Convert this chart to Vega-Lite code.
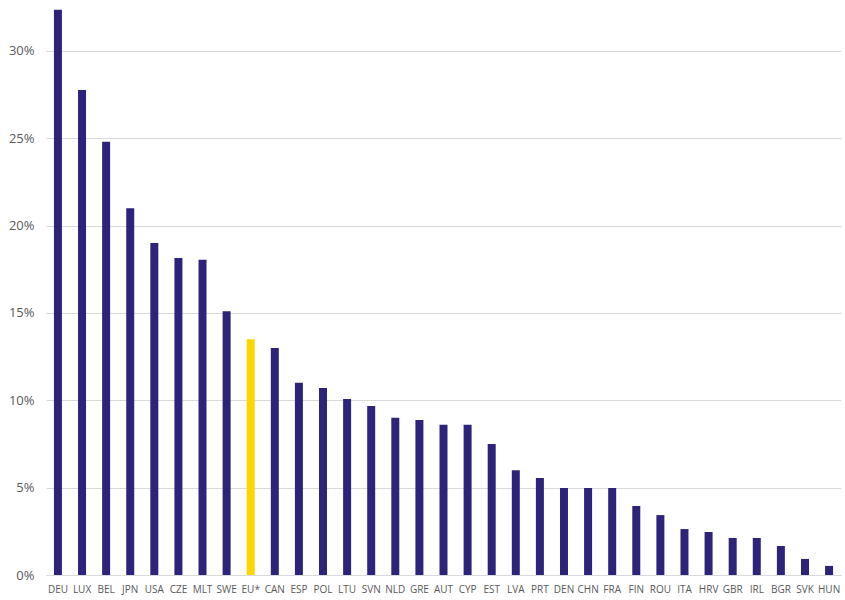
{
  "$schema": "https://vega.github.io/schema/vega-lite/v6.json",
  "width": 795,
  "height": 573,
  "autosize": {"type": "none"},
  "padding": {"left": 46, "top": 2, "right": 4, "bottom": 25},
  "background": "white",
  "config": {"view": {"stroke": null}, "font": "Open Sans"},
  "data": {"values": [
    {"country": "DEU", "value": 0.3235, "group": "other"},
    {"country": "LUX", "value": 0.2776, "group": "other"},
    {"country": "BEL", "value": 0.248, "group": "other"},
    {"country": "JPN", "value": 0.21, "group": "other"},
    {"country": "USA", "value": 0.19, "group": "other"},
    {"country": "CZE", "value": 0.1815, "group": "other"},
    {"country": "MLT", "value": 0.1805, "group": "other"},
    {"country": "SWE", "value": 0.151, "group": "other"},
    {"country": "EU*", "value": 0.135, "group": "eu"},
    {"country": "CAN", "value": 0.13, "group": "other"},
    {"country": "ESP", "value": 0.11, "group": "other"},
    {"country": "POL", "value": 0.107, "group": "other"},
    {"country": "LTU", "value": 0.1007, "group": "other"},
    {"country": "SVN", "value": 0.0967, "group": "other"},
    {"country": "NLD", "value": 0.09, "group": "other"},
    {"country": "GRE", "value": 0.0887, "group": "other"},
    {"country": "AUT", "value": 0.086, "group": "other"},
    {"country": "CYP", "value": 0.086, "group": "other"},
    {"country": "EST", "value": 0.075, "group": "other"},
    {"country": "LVA", "value": 0.06, "group": "other"},
    {"country": "PRT", "value": 0.0555, "group": "other"},
    {"country": "DEN", "value": 0.0498, "group": "other"},
    {"country": "CHN", "value": 0.0498, "group": "other"},
    {"country": "FRA", "value": 0.0498, "group": "other"},
    {"country": "FIN", "value": 0.0395, "group": "other"},
    {"country": "ROU", "value": 0.0343, "group": "other"},
    {"country": "ITA", "value": 0.0263, "group": "other"},
    {"country": "HRV", "value": 0.0246, "group": "other"},
    {"country": "GBR", "value": 0.0212, "group": "other"},
    {"country": "IRL", "value": 0.0212, "group": "other"},
    {"country": "BGR", "value": 0.0166, "group": "other"},
    {"country": "SVK", "value": 0.0092, "group": "other"},
    {"country": "HUN", "value": 0.0052, "group": "other"}
  ]},
  "mark": {"type": "bar", "size": 8},
  "encoding": {
    "x": {
      "field": "country", "type": "nominal", "sort": null,
      "scale": {"paddingInner": 0.67, "paddingOuter": 0.33},
      "axis": {"title": null, "labelAngle": 0, "labelFontSize": 10, "labelColor": "#595959",
               "ticks": false, "domainColor": "#d9d9d9", "labelPadding": 9, "labelFont": "Open Sans"}
    },
    "y": {
      "field": "value", "type": "quantitative",
      "scale": {"domain": [0, 0.328], "nice": false},
      "axis": {"title": null, "format": ".0%", "values": [0, 0.05, 0.1, 0.15, 0.2, 0.25, 0.3],
               "ticks": false, "domain": false, "gridColor": "#d9d9d9", "labelFontSize": 13,
               "labelColor": "#595959", "labelPadding": 12, "labelFont": "Open Sans"}
    },
    "color": {
      "field": "group", "type": "nominal",
      "scale": {"domain": ["other", "eu"], "range": ["#2E237A", "#FFD500"]},
      "legend": null
    }
  }
}
